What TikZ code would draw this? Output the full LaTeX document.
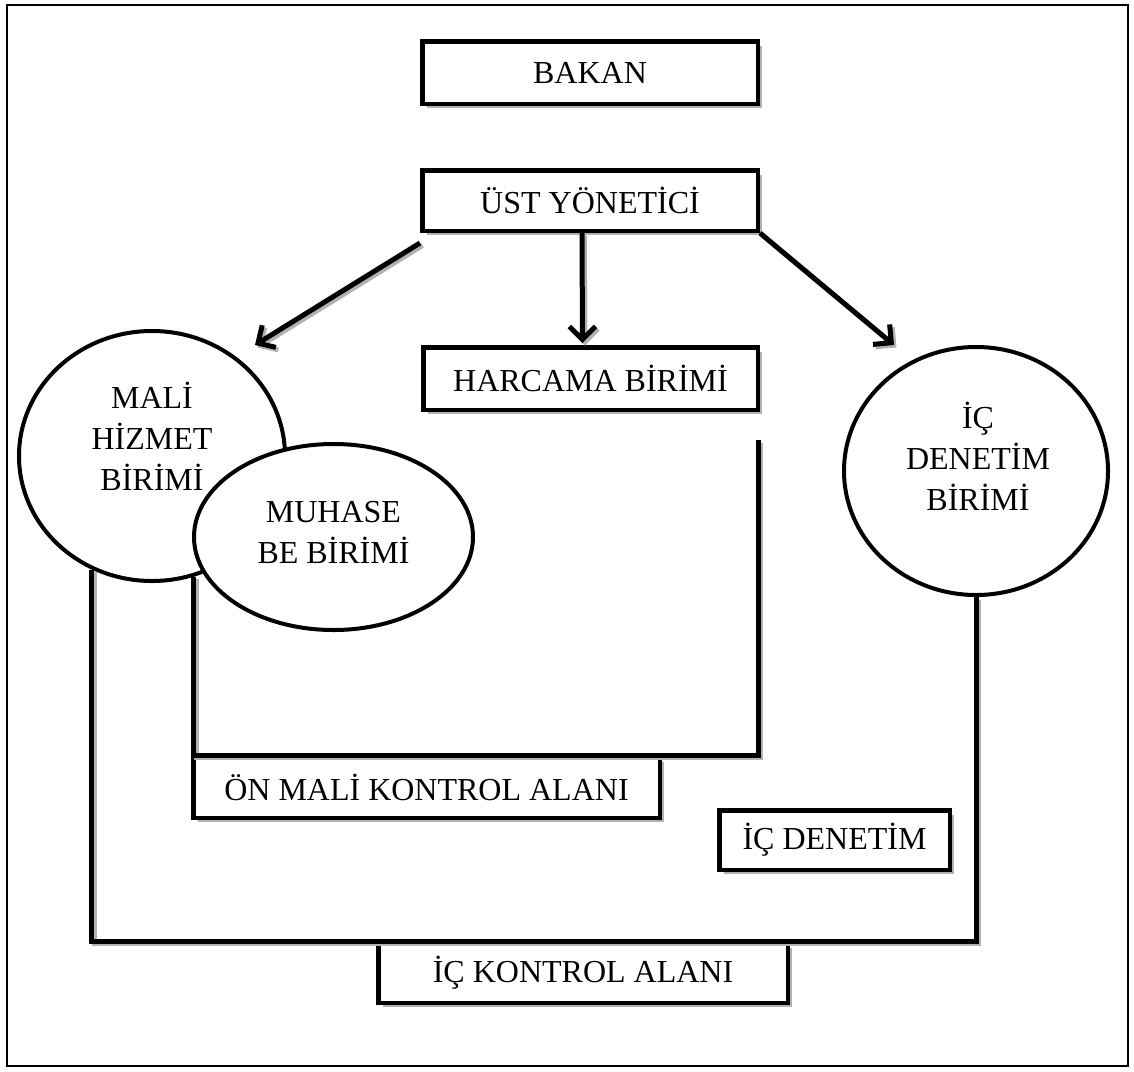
\documentclass[tikz,border=0pt]{standalone}
\usepackage{fontspec}
\setmainfont{Liberation Serif}
\usetikzlibrary{shapes.geometric, arrows.meta, shadows}

\tikzset{
  unitbox/.style={draw, line width=4.5pt, fill=white, inner sep=0pt,
    font=\fontsize{32}{40}\selectfont,
    drop shadow={shadow xshift=4.5pt, shadow yshift=-4.5pt, fill=black!30, opacity=1}},
  unitellipse/.style={draw, ellipse, line width=4pt, fill=white, inner sep=0pt},
  unittext/.style={align=center, inner sep=0pt, font=\fontsize{32}{41}\selectfont},
  ctrlline/.style={line width=5pt,
    preaction={draw=black!30, line width=5pt, transform canvas={xshift=2.5pt, yshift=-2.5pt}}},
  flowarrow/.style={ctrlline, -{Straight Barb[length=13pt, width=26pt]}}
}

\begin{document}
\begin{tikzpicture}[x=1pt, y=-1pt]
  \useasboundingbox (0,0) rectangle (1134,1071);
  \draw[line width=1.2pt] (7,5) rectangle (1128,1066);

  % === Top of the chain ===
  \node[unitbox, minimum width=335.5pt, minimum height=62.5pt] (bakan) at (590,72.5) {BAKAN};
  \node[unitbox, minimum width=335.5pt, minimum height=60.5pt] (ust) at (590,200.5) {ÜST YÖNETİCİ};
  \node[unitbox, minimum width=334.5pt, minimum height=62.5pt] (harcama) at (590.5,378.5) {HARCAMA BİRİMİ};

  % === Units (ellipses) ===
  \node[unitellipse, minimum width=266pt, minimum height=250pt] (mali) at (152,456) {};
  \node[unittext] (maliT) at (152,436) {MALİ\\HİZMET\\BİRİMİ};
  \node[unitellipse, minimum width=279pt, minimum height=186pt] (muhasebe) at (333.5,537) {};
  \node[unittext] (muhasebeT) at (333.5,532) {MUHASE\\BE BİRİMİ};
  \node[unitellipse, minimum width=264pt, minimum height=248pt] (icbirim) at (976,471) {};
  \node[unittext] (icbirimT) at (978,456) {İÇ\\DENETİM\\BİRİMİ};

  % === Area labels ===
  \node[unitbox, minimum width=466.5pt, minimum height=60.5pt] (onmali) at (426.5,787.5) {ÖN MALİ KONTROL ALANI};
  \node[unitbox, minimum width=230.5pt, minimum height=59.5pt] (icden) at (834.5,840) {İÇ DENETİM};
  \node[unitbox, minimum width=409.5pt, minimum height=59.5pt] (kontrol) at (583,973) {İÇ KONTROL ALANI};

  % Arrow ends
  \coordinate (maliTip) at (255,345);
  \coordinate (icTip) at (894,345);
  \coordinate (innerTop) at (758,440);

  % Arrows
  \draw[flowarrow] ([yshift=-10pt]ust.south west) -- (maliTip);
  \draw[flowarrow, shorten >=2pt] ([xshift=-8pt]ust.south) -- ([xshift=-8pt]harcama.north);
  \draw[flowarrow] (ust.south east) -- (icTip);

  % Control areas
  \draw[ctrlline] (mali.289) -- (mali.289 |- onmali.north) -- (innerTop |- onmali.north) -- (innerTop);
  \draw[ctrlline] (mali.242) -- (mali.242 |- kontrol.north) -- (icbirim.south |- kontrol.north) -- (icbirim.south);
\end{tikzpicture}
\end{document}
